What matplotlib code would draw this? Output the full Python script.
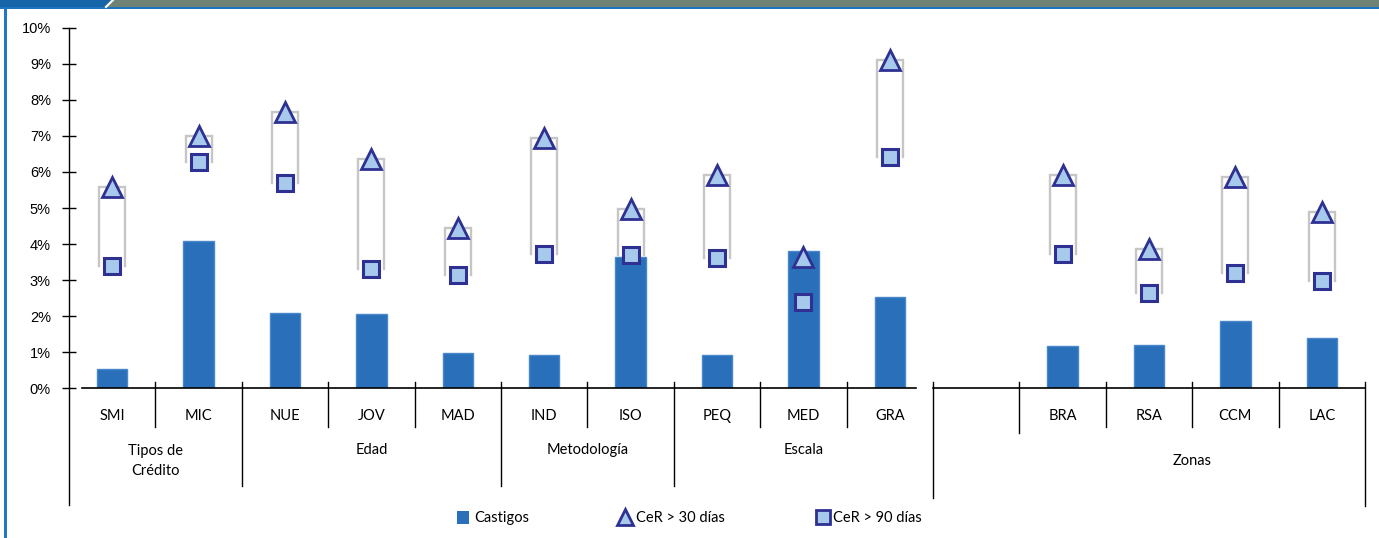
import matplotlib
matplotlib.use("Agg")
import matplotlib.pyplot as plt
from matplotlib.patches import Polygon, Rectangle
import numpy as np

# ---- data (percent) ----
categories = ["SMI", "MIC", "NUE", "JOV", "MAD", "IND", "ISO", "PEQ", "MED", "GRA",
              "", "BRA", "RSA", "CCM", "LAC"]
castigos = [0.53, 4.07, 2.08, 2.06, 0.97, 0.92, 3.63, 0.92, 3.80, 2.53,
            None, 1.17, 1.19, 1.86, 1.39]
cer30 = [5.58, 7.00, 7.67, 6.36, 4.44, 6.94, 4.97, 5.92, 3.64, 9.12,
         None, 5.92, 3.86, 5.86, 4.89]
cer90 = [3.39, 6.28, 5.69, 3.31, 3.14, 3.72, 3.69, 3.61, 2.39, 6.42,
         None, 3.72, 2.64, 3.19, 2.97]
groups = ["Tipos de\nCrédito", "Edad", "Metodología", "Escala", "", "Zonas"]
group_spans = [(0, 1), (2, 4), (5, 6), (7, 9), (10, 10), (11, 14)]
yticks = [0, 1, 2, 3, 4, 5, 6, 7, 8, 9, 10]
ytick_labels = [f"{v}%" for v in yticks]
legend_labels = ["Castigos", "CeR > 30 días", "CeR > 90 días"]

# ---- style ----
W, H = 1379, 538
BAR = "#2a6fba"
BAR_EDGE = "#4a88cc"
MK_EDGE = "#2e3192"
MK_FACE = "#a7c9ec"
BRACKET = "#c6c6c6"
CAT_FONT = "Lato"
NUM_FONT = "Liberation Sans"

fig = plt.figure(figsize=(W / 100, H / 100), dpi=100)
fig.patch.set_facecolor("white")

x0, x1, y_top, y_zero = 69, 1365, 28, 388
ax = fig.add_axes([x0 / W, (H - y_zero) / H, (x1 - x0) / W, (y_zero - y_top) / H])
ax.set_xlim(-0.5, len(categories) - 0.5)
ax.set_ylim(0, 10)
for s in ["top", "right", "bottom"]:
    ax.spines[s].set_visible(False)
ax.spines["left"].set_linewidth(1.0)
ax.set_facecolor("none")
ax.set_yticks(yticks)
ax.set_yticklabels(ytick_labels, fontfamily=NUM_FONT, fontsize=10.5)
ax.tick_params(axis="y", direction="inout", length=10, width=1, pad=8)
ax.set_xticks([])

idx = np.arange(len(categories))

# bars
bx = [i for i in idx if castigos[i] is not None]
ax.bar(bx, [castigos[i] for i in bx], width=0.35, color=BAR,
       edgecolor=BAR_EDGE, linewidth=1, zorder=2)

# gray brackets spanning CeR>90 to CeR>30
bw = 0.15
for i in idx:
    if cer30[i] is None:
        continue
    lo, hi = cer90[i], cer30[i]
    ax.plot([i - bw, i - bw, i + bw, i + bw], [lo, hi, hi, lo],
            color=BRACKET, lw=1.7, zorder=1, solid_joinstyle="miter")

mx = [i for i in idx if cer30[i] is not None]
ax.plot(mx, [cer30[i] for i in mx], linestyle="none", marker="^", markersize=14,
        markerfacecolor=MK_FACE, markeredgecolor=MK_EDGE, markeredgewidth=2, zorder=4)
ax.plot(mx, [cer90[i] for i in mx], linestyle="none", marker="s", markersize=12,
        markerfacecolor=MK_FACE, markeredgecolor=MK_EDGE, markeredgewidth=2.2, zorder=4)

# ---- multi-level category axis ----
tr = ax.get_xaxis_transform()
def yf(py):
    return (y_zero - py) / (y_zero - y_top)

ax.plot([-0.35, 9.3], [0, 0], color="black", lw=1.2, transform=tr, clip_on=False, zorder=5)
ax.plot([9.5, 14.5], [0, 0], color="black", lw=1.2, transform=tr, clip_on=False, zorder=5)
ax.plot([-0.5, -0.5], [0, yf(505)], color="black", lw=1.0, transform=tr, clip_on=False)

group_ends = {1: 486, 4: 486, 6: 486, 9: 498, 14: 506}
for b in range(len(categories)):
    xb = b + 0.5
    if b in group_ends:
        ybot = group_ends[b]
    else:
        ybot = 427 if b != 10 else 433
    ax.plot([xb, xb], [yf(382), yf(ybot)], color="black", lw=1.0,
            transform=tr, clip_on=False)

for i, c in enumerate(categories):
    if c:
        ax.text(i, yf(416), c, transform=tr, ha="center", va="center",
                fontfamily=CAT_FONT, fontsize=10.5, clip_on=False)

for g, (a, b) in zip(groups, group_spans):
    if not g:
        continue
    ypos = 461 if ("\n" in g or g == "Zonas") else 450
    ax.text((a + b) / 2, yf(ypos), g, transform=tr, ha="center", va="center",
            fontfamily=CAT_FONT, fontsize=10.5, linespacing=1.6, clip_on=False)

# ---- overlay in pixel coordinates: frame and legend ----
ov2 = fig.add_axes([0, 0, 1, 1], zorder=10)
ov2.set_xlim(0, W)
ov2.set_ylim(H, 0)
ov2.axis("off")
ov2.patch.set_alpha(0)

ov2.add_patch(Rectangle((0, 0), W, 7, color="#6e8275", lw=0))
ov2.add_patch(Polygon([(0, 0), (111, 0), (104, 7), (0, 7)], closed=True, color="#1565a8", lw=0))
ov2.plot([106, 113], [7, 0], color="white", lw=1.5)
ov2.add_patch(Rectangle((0, 6.5), W, 2.5, color="#1d73bd", lw=0))
ov2.add_patch(Rectangle((4, 6.5), 3, H, color="#1f78c6", lw=0))

# legend
ly = 518
ov2.add_patch(Rectangle((457, 511), 12, 13, color=BAR, lw=0))
ov2.text(474, ly, legend_labels[0], ha="left", va="center", fontfamily=CAT_FONT, fontsize=10.5)
ov2.plot([624.5], [ly - 1], marker="^", markersize=11, markerfacecolor=MK_FACE,
         markeredgecolor=MK_EDGE, markeredgewidth=2)
ov2.text(636, ly, legend_labels[1], ha="left", va="center", fontfamily=CAT_FONT, fontsize=10.5)
ov2.plot([822.5], [ly - 1], marker="s", markersize=9.5, markerfacecolor=MK_FACE,
         markeredgecolor=MK_EDGE, markeredgewidth=2)
ov2.text(833, ly, legend_labels[2], ha="left", va="center", fontfamily=CAT_FONT, fontsize=10.5)

fig.savefig("out.png", dpi=100)
